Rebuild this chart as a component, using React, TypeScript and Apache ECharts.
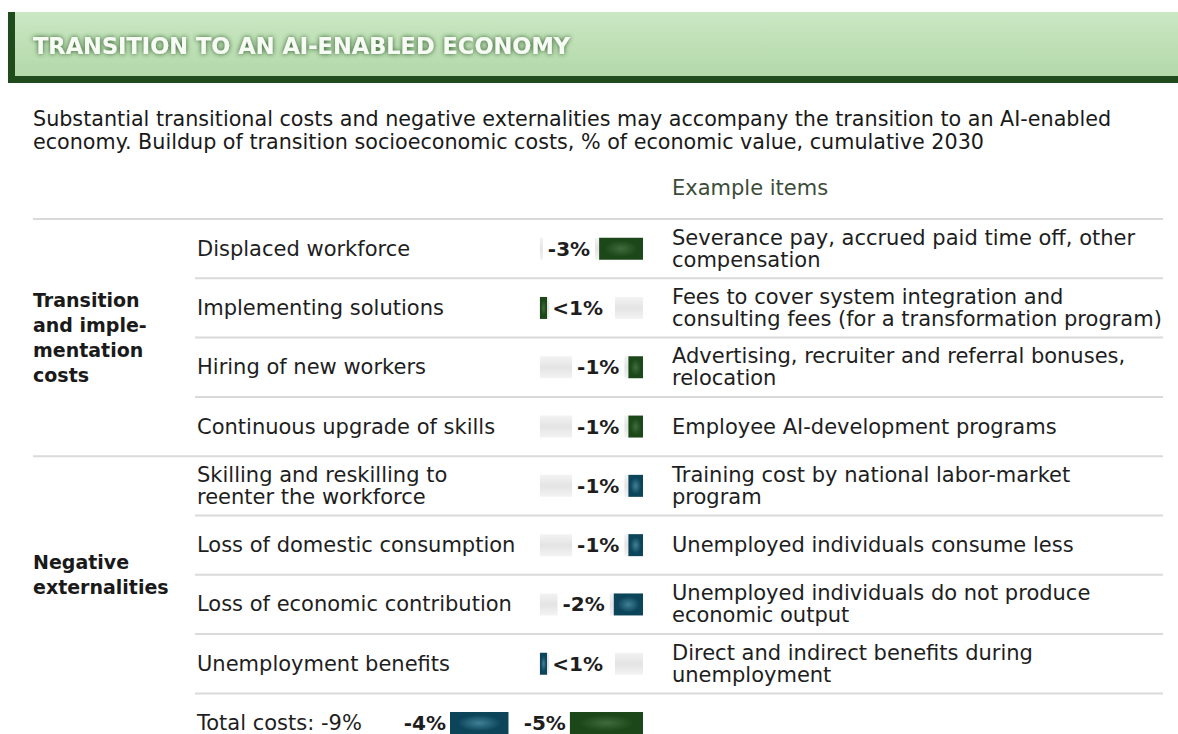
import React, { useEffect, useRef } from 'react';
import * as echarts from 'echarts';

// ---------------- data ----------------
const items = [
  'Displaced workforce',
  'Implementing solutions',
  'Hiring of new workers',
  'Continuous upgrade of skills',
  'Skilling and reskilling to\nreenter the workforce',
  'Loss of domestic consumption',
  'Loss of economic contribution',
  'Unemployment benefits',
];
const groupOfItem = [0, 0, 0, 0, 1, 1, 1, 1];
const groups = ['Transition\nand imple-\nmentation\ncosts', 'Negative\nexternalities'];
const costs = [-3, -0.5, -1, -1, -1, -1, -2, -0.5];
const costLabels = ['-3%', '<1%', '-1%', '-1%', '-1%', '-1%', '-2%', '<1%'];
const examples = [
  'Severance pay, accrued paid time off, other\ncompensation',
  'Fees to cover system integration and\nconsulting fees (for a transformation program)',
  'Advertising, recruiter and referral bonuses,\nrelocation',
  'Employee AI-development programs',
  'Training cost by national labor-market\nprogram',
  'Unemployed individuals consume less',
  'Unemployed individuals do not produce\neconomic output',
  'Direct and indirect benefits during\nunemployment',
];
const totalLabel = 'Total costs: -9%';
const totalNegative = -4; // negative externalities
const totalTransition = -5; // transition and implementation
const totalNegativeLabel = '-4%';
const totalTransitionLabel = '-5%';

const title = 'TRANSITION TO AN AI-ENABLED ECONOMY';
const subtitle =
  'Substantial transitional costs and negative externalities may accompany the transition to an AI-enabled\neconomy. Buildup of transition socioeconomic costs, % of economic value, cumulative 2030';
const exampleHeader = 'Example items';

// ---------------- layout / style ----------------
const FONT = '"DejaVu Sans", "Noto Sans", sans-serif';
const W = 1178;
const H = 770;
const GRID_LEFT = 450;
const GRID_RIGHT_X = 643;
const GRID_TOP = 219;
const ROW_H = 59.3;
const AXIS_MAX = 13.2;
const TRACK_START = 6.15;
const BODY_SIZE = 21;
const GREEN = { dark: '#1c4719', light: '#3f6c3b' };
const TEAL = { dark: '#0c445a', light: '#3f8096' };

const barFill = (c: { dark: string; light: string }) =>
  new echarts.graphic.RadialGradient(0.5, 0.5, 0.5, [
    { offset: 0, color: c.light },
    { offset: 0.75, color: c.dark },
    { offset: 1, color: c.dark },
  ]);
const trackFill = () =>
  new echarts.graphic.LinearGradient(0, 0, 0, 1, [
    { offset: 0, color: '#f3f3f3' },
    { offset: 0.5, color: '#e4e4e4' },
    { offset: 1, color: '#f3f3f3' },
  ]);

export default function App() {
  const ref = useRef<HTMLDivElement>(null);

  useEffect(() => {
    if (!ref.current) return;
    const chart = echarts.init(ref.current, undefined, { renderer: 'svg' });
    const n = items.length + 1;
    const isSmall = (v: number) => Math.abs(v) < 1;
    const span = AXIS_MAX - TRACK_START;

    const offset: number[] = [];
    const trackBefore: any[] = [];
    const bar: any[] = [];
    const trackAfter: any[] = [];
    const totNeg: any[] = [];
    const totGap: number[] = [];
    const totTrans: any[] = [];

    for (let i = 0; i < n; i++) {
      if (i < items.length) {
        const v = Math.abs(costs[i]);
        const c = groupOfItem[i] === 0 ? GREEN : TEAL;
        const small = isSmall(costs[i]);
        offset.push(TRACK_START);
        trackBefore.push(small ? 0 : span - v);
        bar.push({
          value: v,
          itemStyle: { color: barFill(c) },
          label: {
            show: true,
            position: small ? 'right' : 'left',
            distance: small ? 2 : 4,
            padding: small ? [2, 12, 2, 3] : [2, 5, 2, 5],
            formatter: costLabels[i],
          },
        });
        trackAfter.push(small ? span - v : 0);
        totNeg.push(0);
        totGap.push(0);
        totTrans.push(0);
      } else {
        offset.push(0);
        trackBefore.push(0);
        bar.push(0);
        trackAfter.push(0);
        totNeg.push({
          value: Math.abs(totalNegative),
          label: { show: true, position: 'left', distance: 4, formatter: totalNegativeLabel },
        });
        totGap.push(AXIS_MAX - Math.abs(totalNegative) - Math.abs(totalTransition));
        totTrans.push({
          value: Math.abs(totalTransition),
          label: { show: true, position: 'left', distance: 4, formatter: totalTransitionLabel },
        });
      }
    }

    const labelStyle = {
      fontFamily: FONT,
      fontSize: 20,
      fontWeight: 'bold' as const,
      color: '#1e1e1e',
      backgroundColor: '#ffffff',
    };

    const base = { type: 'bar', stack: 'row', barWidth: 22, silent: true };

    const graphics: any[] = [];
    // banner
    graphics.push({
      type: 'rect',
      shape: { x: 8, y: 12, width: W - 8, height: 71 },
      style: { fill: '#204b1d' },
    });
    graphics.push({
      type: 'rect',
      shape: { x: 15, y: 12, width: W - 15, height: 64 },
      style: {
        fill: new echarts.graphic.LinearGradient(0, 0, 0, 1, [
          { offset: 0, color: '#cbe8c4' },
          { offset: 1, color: '#b3d8a9' },
        ]),
      },
    });
    graphics.push({
      type: 'text',
      x: 33,
      y: 46,
      style: {
        text: title,
        fontFamily: FONT,
        fontSize: 22.5,
        fontWeight: 'bold',
        fill: '#f6fcf4',
        align: 'left',
        verticalAlign: 'middle',
        textShadowColor: '#2c5a27',
        textShadowBlur: 5,
      },
    });
    graphics.push({
      type: 'text',
      x: 33,
      y: 130.5,
      style: {
        text: subtitle,
        fontFamily: FONT,
        fontSize: 20.7,
        lineHeight: 23,
        fill: '#1a1a1a',
        align: 'left',
        verticalAlign: 'middle',
      },
    });
    graphics.push({
      type: 'text',
      x: 672,
      y: 188,
      style: {
        text: exampleHeader,
        fontFamily: FONT,
        fontSize: BODY_SIZE,
        fill: '#3b4d38',
        align: 'left',
        verticalAlign: 'middle',
      },
    });
    // group labels
    groups.forEach((g, gi) => {
      const rowsIn = groupOfItem.filter((x) => x === gi).length;
      const first = groupOfItem.indexOf(gi);
      graphics.push({
        type: 'text',
        x: 33,
        y: GRID_TOP + (first + rowsIn / 2) * ROW_H,
        style: {
          text: g,
          fontFamily: FONT,
          fontSize: 19,
          fontWeight: 'bold',
          lineHeight: 25,
          fill: '#1a1a1a',
          align: 'left',
          verticalAlign: 'middle',
        },
      });
    });
    // separators
    for (let i = 0; i < n; i++) {
      const full = i === 0 || (i < items.length && groupOfItem[i] !== groupOfItem[i - 1]);
      graphics.push({
        type: 'line',
        shape: { x1: full ? 33 : 195, y1: GRID_TOP + i * ROW_H, x2: 1163, y2: GRID_TOP + i * ROW_H },
        style: { stroke: '#dadada', lineWidth: 2 },
      });
    }

    const axisText = {
      interval: 0,
      align: 'left' as const,
      fontFamily: FONT,
      fontSize: BODY_SIZE,
      lineHeight: 22,
      color: '#1e1e1e',
    };

    chart.setOption({
      animation: false,
      backgroundColor: '#ffffff',
      grid: {
        left: GRID_LEFT,
        width: GRID_RIGHT_X - GRID_LEFT,
        top: GRID_TOP,
        height: ROW_H * n,
      },
      xAxis: { type: 'value', min: 0, max: AXIS_MAX, show: false },
      yAxis: [
        {
          type: 'category',
          inverse: true,
          data: [...items, totalLabel],
          axisLine: { show: false },
          axisTick: { show: false },
          axisLabel: { ...axisText, margin: GRID_LEFT - 197 },
        },
        {
          type: 'category',
          inverse: true,
          position: 'right',
          data: [...examples, ''],
          axisLine: { show: false },
          axisTick: { show: false },
          axisLabel: { ...axisText, margin: 672 - GRID_RIGHT_X },
        },
      ],
      graphic: graphics,
      series: [
        { ...base, name: 'offset', data: offset, itemStyle: { color: 'transparent' } },
        { ...base, name: 'trackBefore', data: trackBefore, itemStyle: { color: trackFill() } },
        { ...base, name: 'cost', data: bar, label: { ...labelStyle, show: false } },
        { ...base, name: 'trackAfter', data: trackAfter, itemStyle: { color: trackFill() } },
        {
          ...base,
          name: 'totalNegative',
          data: totNeg,
          itemStyle: { color: barFill(TEAL) },
          label: { ...labelStyle, show: false },
        },
        { ...base, name: 'totalGap', data: totGap, itemStyle: { color: 'transparent' } },
        {
          ...base,
          name: 'totalTransition',
          data: totTrans,
          itemStyle: { color: barFill(GREEN) },
          label: { ...labelStyle, show: false },
        },
      ],
    });
    return () => chart.dispose();
  }, []);

  return (
    <div
      ref={ref}
      style={{ position: 'fixed', left: 0, top: 0, width: W, height: H, background: '#fff' }}
    />
  );
}
